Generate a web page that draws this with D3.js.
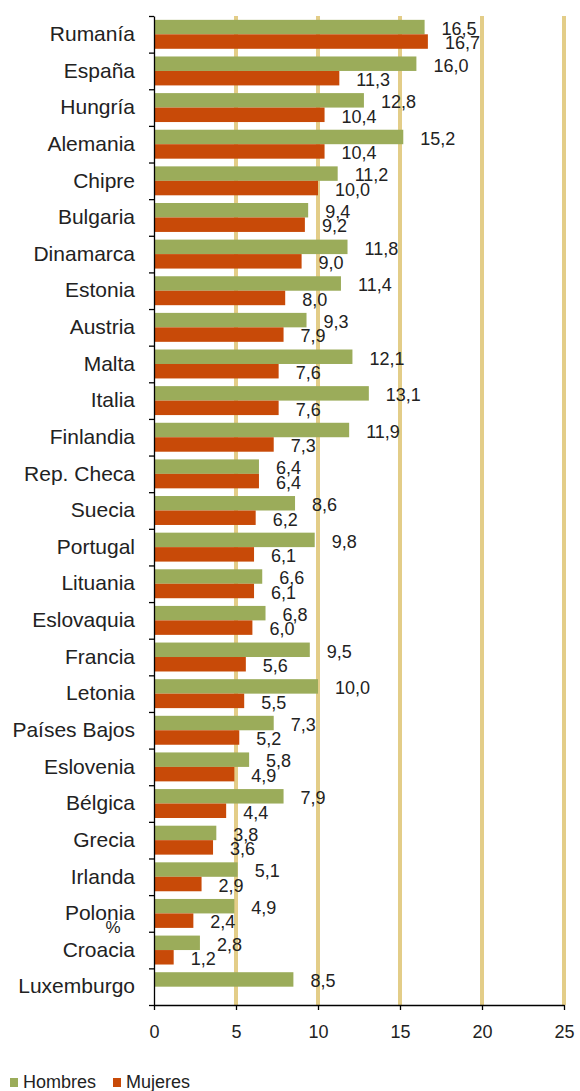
<!DOCTYPE html>
<html lang="es">
<head>
    <meta charset="UTF-8">
    <title>Hombres y Mujeres por país</title>
    <script src="https://cdn.jsdelivr.net/npm/d3@7"></script>
</head>
<body>
<style>
    body {
        margin: 0;
        background-color: white;
    }
    svg text {
        font-family: "Liberation Sans", Arial, sans-serif;
        fill: #222;
    }
    .axis path,
    .axis line {
        fill: none;
        stroke: black;
        stroke-width: 1.3;
    }
    .catAxis text {
        font-size: 21px;
    }
    .numAxis text {
        font-size: 18px;
    }
    .valueText {
        font-size: 18px;
    }
    .grid {
        stroke: #e3cd88;
        stroke-width: 4;
    }
</style>

<svg width="580" height="1091"></svg>

<script>
    // datos (orden de arriba a abajo)
    var paises = ["Rumanía", "España", "Hungría", "Alemania", "Chipre", "Bulgaria", "Dinamarca", "Estonia",
        "Austria", "Malta", "Italia", "Finlandia", "Rep. Checa", "Suecia", "Portugal", "Lituania",
        "Eslovaquia", "Francia", "Letonia", "Países Bajos", "Eslovenia", "Bélgica", "Grecia", "Irlanda",
        "Polonia", "Croacia", "Luxemburgo"];
    var hombres = [16.5, 16.0, 12.8, 15.2, 11.2, 9.4, 11.8, 11.4, 9.3, 12.1, 13.1, 11.9, 6.4, 8.6, 9.8, 6.6,
        6.8, 9.5, 10.0, 7.3, 5.8, 7.9, 3.8, 5.1, 4.9, 2.8, 8.5];
    var mujeres = [16.7, 11.3, 10.4, 10.4, 10.0, 9.2, 9.0, 8.0, 7.9, 7.6, 7.6, 7.3, 6.4, 6.2, 6.1, 6.1,
        6.0, 5.6, 5.5, 5.2, 4.9, 4.4, 3.6, 2.9, 2.4, 1.2, null];
    var series = ["Hombres", "Mujeres"];
    var colores = ["#9bac5a", "#c84a08"];
    var xTicks = [0, 5, 10, 15, 20, 25];

    var svg = d3.select("svg");
    var plotTop = 16, plotBottom = 1005;

    var getX = d3.scaleLinear()
            .domain([0, 25])
            .range([154, 564]);
    var getY = d3.scaleBand()
            .domain(paises)
            .range([plotTop, plotBottom])
            .paddingInner(0.21)
            .paddingOuter(0.105);
    var getSub = d3.scaleBand()
            .domain(series)
            .range([0, getY.bandwidth()]);
    var color = d3.scaleOrdinal()
            .domain(series)
            .range(colores);

    // lineas de rejilla
    svg.selectAll(".grid")
            .data(xTicks.slice(1))
            .enter()
            .append("line")
            .attr("class", "grid")
            .attr("x1", function (d) { return getX(d); })
            .attr("x2", function (d) { return getX(d); })
            .attr("y1", plotTop)
            .attr("y2", plotBottom);

    var filas = [];
    paises.forEach(function (p, i) {
        filas.push({pais: p, serie: "Hombres", valor: hombres[i]});
        if (mujeres[i] != null) {
            filas.push({pais: p, serie: "Mujeres", valor: mujeres[i]});
        }
    });

    svg.selectAll(".bar")
            .data(filas)
            .enter()
            .append("rect")
            .attr("class", "bar")
            .attr("x", getX(0))
            .attr("y", function (d) { return getY(d.pais) + getSub(d.serie); })
            .attr("width", function (d) { return getX(d.valor) - getX(0); })
            .attr("height", getSub.bandwidth())
            .attr("fill", function (d) { return color(d.serie); });

    svg.selectAll(".valueText")
            .data(filas)
            .enter()
            .append("text")
            .attr("class", "valueText")
            .attr("x", function (d) { return getX(d.valor) + 17; })
            .attr("y", function (d) { return getY(d.pais) + getSub(d.serie) + getSub.bandwidth() / 2 + 1.5; })
            .attr("dy", "0.35em")
            .text(function (d) { return d3.format(".1f")(d.valor).replace(".", ","); });

    // eje de categorias: etiquetas
    svg.append("g")
            .attr("class", "axis catAxis")
            .attr("transform", "translate(154,0)")
            .call(d3.axisLeft(getY).tickSize(0).tickPadding(19))
            .call(function (g) { g.select(".domain").remove(); });

    // eje de categorias: marcas entre paises
    var getB = d3.scaleLinear()
            .domain([0, paises.length])
            .range([plotTop, plotBottom]);
    svg.append("g")
            .attr("class", "axis")
            .attr("transform", "translate(154,0)")
            .call(d3.axisLeft(getB)
                    .tickValues(d3.range(paises.length + 1))
                    .tickSize(5)
                    .tickSizeOuter(0)
                    .tickFormat(""));

    svg.append("g")
            .attr("class", "axis numAxis")
            .attr("transform", "translate(0," + plotBottom + ")")
            .call(d3.axisBottom(getX)
                    .tickValues(xTicks)
                    .tickSize(5)
                    .tickSizeOuter(0)
                    .tickPadding(15));

    svg.append("text")
            .text("%")
            .attr("x", 113)
            .attr("y", 927)
            .attr("dy", "0.35em")
            .attr("text-anchor", "middle")
            .style("font-size", "17px");

    // leyenda
    var legend = svg.selectAll(".legend")
            .data(series)
            .enter()
            .append("g")
            .attr("class", "legend")
            .attr("transform", function (d, i) { return "translate(" + (10 + i * 103) + ",1077)"; });
    legend.append("rect")
            .attr("width", 8)
            .attr("height", 9)
            .attr("y", 1)
            .attr("fill", function (d) { return color(d); });
    legend.append("text")
            .attr("x", 13)
            .attr("y", 11)
            .style("font-size", "18px")
            .text(function (d) { return d; });
</script>
</body>
</html>
